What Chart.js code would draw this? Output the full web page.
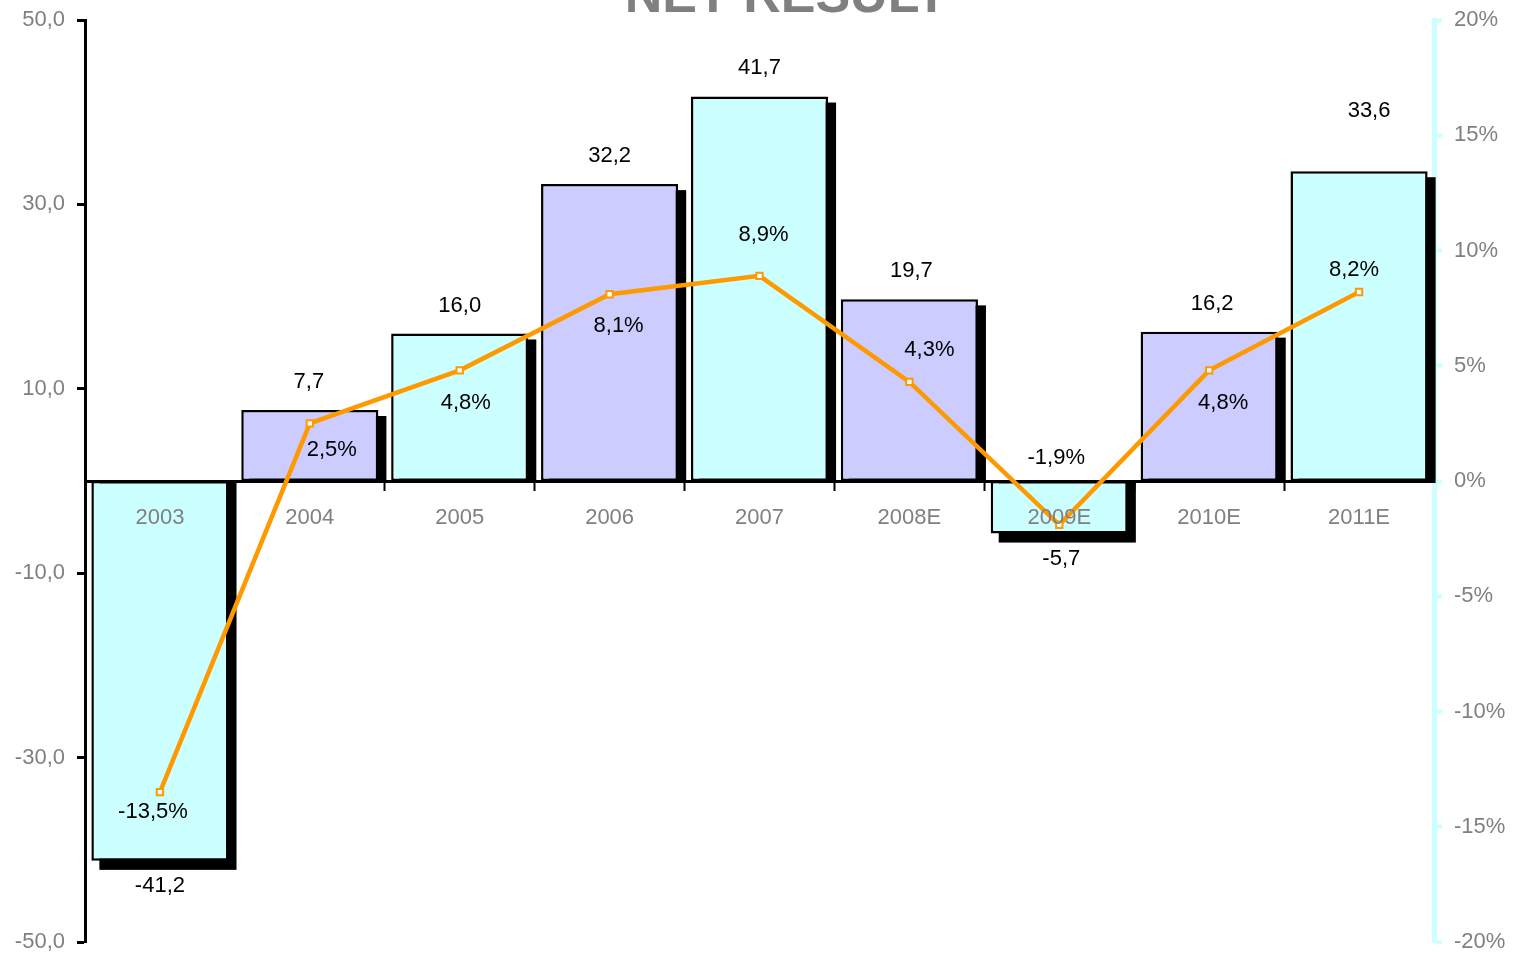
<!DOCTYPE html>
<html>
<head>
<meta charset="utf-8">
<script src="https://cdn.jsdelivr.net/npm/chart.js@4/dist/chart.umd.min.js"></script>
<style>
  html, body { margin: 0; padding: 0; background: #fff; }
  #wrap { width: 1526px; height: 953px; position: relative; }
</style>
</head>
<body>
<div id="wrap"><canvas id="chart"></canvas></div>
<script>
// données
const years = ['2003', '2004', '2005', '2006', '2007', '2008E', '2009E', '2010E', '2011E'];
const netResult = [-41.2, 7.7, 16.0, 32.2, 41.7, 19.7, -5.7, 16.2, 33.6];
const netMargin = [-13.5, 2.5, 4.8, 8.1, 8.9, 4.3, -1.9, 4.8, 8.2];
const leftTicks = [50, 30, 10, -10, -30, -50];
const rightTicks = [20, 15, 10, 5, 0, -5, -10, -15, -20];

const CYAN = '#CCFFFF';
const LAVANDE = '#CCCCFF';
const ORANGE = '#FF9900';
const GRIS = '#808080';

// décalages des étiquettes (comme placées à la main dans l'original)
const valDx = [0, -1, 0, 0, 0, 2, 2, 3, 10];
const valDy = [25, -28, -28, -28, -29, -28, 25, -28, -60];
const pctDx = [-7, 22, 6, 9, 4, 20, -3, 14, -5];
const pctDy = [20, 27, 33, 32, -41, -32, -67, 33, -22];

const fmt = v => v.toFixed(1).replace('.', ',');

const ombre = {
    id: 'ombre',
    beforeDatasetDraw(chart, args) {
        if (args.index !== 0) return;
        const ctx = chart.ctx;
        ctx.save();
        ctx.fillStyle = '#000';
        args.meta.data.forEach(el => {
            const p = el.getProps(['x', 'y', 'base', 'width'], true);
            const l = p.x - p.width / 2 + 8;
            if (p.y < p.base) {
                ctx.fillRect(l, p.y + 6, p.width, p.base - p.y - 4);
            } else {
                ctx.fillRect(l, p.base, p.width, p.y - p.base + 9);
            }
        });
        ctx.restore();
    }
};

const etiquettes = {
    id: 'etiquettes',
    afterDraw(chart) {
        const ctx = chart.ctx;
        ctx.save();
        ctx.font = '22px "Liberation Sans", Arial, sans-serif';
        ctx.fillStyle = '#000';
        ctx.textAlign = 'center';
        ctx.textBaseline = 'middle';
        chart.getDatasetMeta(0).data.forEach((el, i) => {
            const p = el.getProps(['x', 'y'], true);
            ctx.fillText(fmt(netResult[i]), p.x + valDx[i], p.y + valDy[i]);
        });
        chart.getDatasetMeta(1).data.forEach((el, i) => {
            const p = el.getProps(['x', 'y'], true);
            ctx.fillText(fmt(netMargin[i]) + '%', p.x + pctDx[i], p.y + pctDy[i]);
        });
        // titre coupé en haut
        ctx.font = 'bold 52px "Liberation Sans", Arial, sans-serif';
        ctx.fillStyle = GRIS;
        ctx.textBaseline = 'alphabetic';
        ctx.fillText('NET RESULT', 786, 12);
        ctx.restore();
    }
};

const tickFont = { family: '"Liberation Sans", Arial, sans-serif', size: 22 };
const sansMarge = s => { s.paddingTop = 0; s.paddingBottom = 0; };

new Chart(document.getElementById('chart'), {
    type: 'bar',
    data: {
        labels: years,
        datasets: [{
            type: 'bar',
            data: netResult,
            yAxisID: 'y',
            backgroundColor: years.map((_, i) => i % 2 === 0 ? CYAN : LAVANDE),
            borderColor: '#000',
            borderWidth: 2.5,
            borderSkipped: false,
            categoryPercentage: 1,
            barPercentage: 0.915,
            order: 2
        }, {
            type: 'line',
            data: netMargin,
            yAxisID: 'y2',
            borderColor: ORANGE,
            borderWidth: 4.5,
            pointStyle: 'rect',
            pointRadius: 4.5,
            pointBorderWidth: 2,
            pointBackgroundColor: '#fff',
            pointBorderColor: ORANGE,
            tension: 0,
            order: 1
        }]
    },
    options: {
        responsive: true,
        maintainAspectRatio: false,
        animation: false,
        layout: { padding: { top: 20, bottom: 11, left: 0, right: 0 } },
        plugins: {
            legend: { display: false },
            tooltip: { enabled: false }
        },
        scales: {
            x: {
                position: { y: 0 },
                offset: true,
                afterFit: s => { s.height = 0; s.paddingLeft = 0; s.paddingRight = 0; },
                grid: {
                    offset: true,
                    drawOnChartArea: false,
                    drawTicks: true,
                    tickLength: 8,
                    tickWidth: 2,
                    tickColor: '#000'
                },
                border: { display: true, color: '#000', width: 3 },
                ticks: { color: GRIS, font: tickFont, padding: 16, maxRotation: 0, z: 1 }
            },
            y: {
                position: 'left',
                min: -50,
                max: 50,
                afterFit: s => { s.width = 85; sansMarge(s); },
                afterBuildTicks: s => { s.ticks = leftTicks.map(v => ({ value: v })); },
                grid: {
                    drawOnChartArea: false,
                    tickLength: 8,
                    tickWidth: 3,
                    tickColor: '#000'
                },
                border: { display: true, color: '#000', width: 3 },
                ticks: {
                    color: GRIS,
                    font: tickFont,
                    padding: 12,
                    callback: v => fmt(v)
                }
            },
            y2: {
                position: 'right',
                min: -20,
                max: 20,
                afterFit: s => { s.width = 92; sansMarge(s); },
                afterBuildTicks: s => { s.ticks = rightTicks.map(v => ({ value: v })); },
                grid: {
                    drawOnChartArea: false,
                    tickLength: 8,
                    tickWidth: 4,
                    tickColor: CYAN
                },
                border: { display: true, color: CYAN, width: 5 },
                ticks: {
                    color: GRIS,
                    font: tickFont,
                    padding: 12,
                    callback: v => v + '%'
                }
            }
        }
    },
    plugins: [ombre, etiquettes]
});
</script>
</body>
</html>
